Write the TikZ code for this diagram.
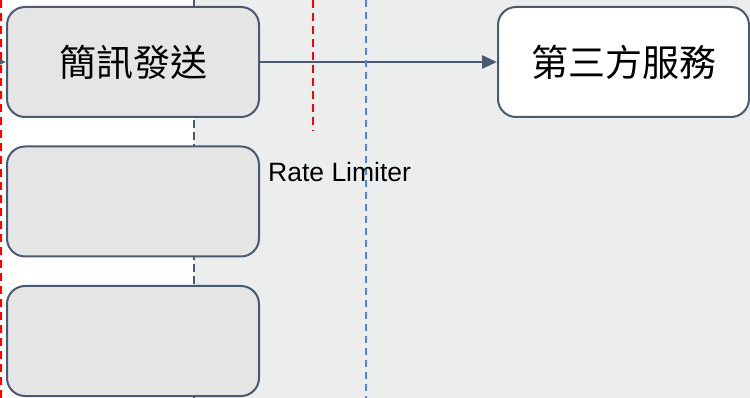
\documentclass[tikz,border=0pt]{standalone}
\usepackage{fontspec}
\setmainfont{Liberation Sans}
\newfontfamily\cjk{Noto Sans CJK TC}
\usetikzlibrary{arrows.meta}
\definecolor{slate}{HTML}{4A5A70}
\definecolor{boxfill}{HTML}{E5E5E5}
\definecolor{panel}{HTML}{ECEDED}
\definecolor{limitred}{HTML}{FF0000}
\definecolor{limitblue}{HTML}{4A86E8}
\tikzset{
  stagebox/.style={draw=slate, line width=2pt, fill=boxfill, rounded corners=18pt,
    minimum width=252pt, minimum height=110pt, inner sep=0pt,
    font=\cjk\fontsize{37}{40}\selectfont},
  extbox/.style={stagebox, fill=white},
  flow/.style={draw=slate, line width=2.8pt, -{Triangle[length=15pt, width=13pt]}},
  zoneline/.style={draw=slate, line width=1.5pt, dash pattern=on 8pt off 4pt},
  redlimit/.style={draw=limitred, line width=1.5pt, dash pattern=on 8pt off 5pt},
  bluelimit/.style={draw=limitblue, line width=1.5pt, dash pattern=on 7pt off 5pt},
  caption/.style={font=\fontsize{26.5}{30}\selectfont, text=black, inner sep=0pt, anchor=west}
}
\begin{document}
\begin{tikzpicture}[x=1pt, y=-1pt]
  \useasboundingbox (0,0) rectangle (750,398);
  % two zones: white on the left, grey panel on the right
  \fill[white] (0,0) rectangle (194,398);
  \fill[panel] (194,0) rectangle (750,398);
  \coordinate (zoneTop) at (194,0);
  \coordinate (zoneBot) at (194,398);
  \draw[zoneline] (zoneTop) -- (zoneBot);

  % stages
  \node[stagebox] (sms) at (133,62) {簡訊發送};
  \node[stagebox] (stageB) at (133,201.5) {};
  \node[stagebox] (stageC) at (133,341) {};
  \node[extbox, minimum width=251pt] (third) at (623.5,62) {第三方服務};

  % connectors
  \coordinate (incoming) at (-40,62);
  \draw[flow] (incoming) -- (sms.west);
  \draw[flow] (sms.east) -- (third.west);

  % limiter markers
  \coordinate (redLeftTop) at (1,0);
  \coordinate (redLeftBot) at (1,398);
  \draw[redlimit] (redLeftTop) -- (redLeftBot);
  \coordinate (redMidTop) at (313,0);
  \coordinate (redMidBot) at (313,131);
  \draw[redlimit] (redMidTop) -- (redMidBot);
  \coordinate (blueTop) at (366,0);
  \coordinate (blueBot) at (366,398);
  \draw[bluelimit] (blueTop) -- (blueBot);

  \node[caption] (rl) at (268,172) {Rate Limiter};
\end{tikzpicture}
\end{document}
